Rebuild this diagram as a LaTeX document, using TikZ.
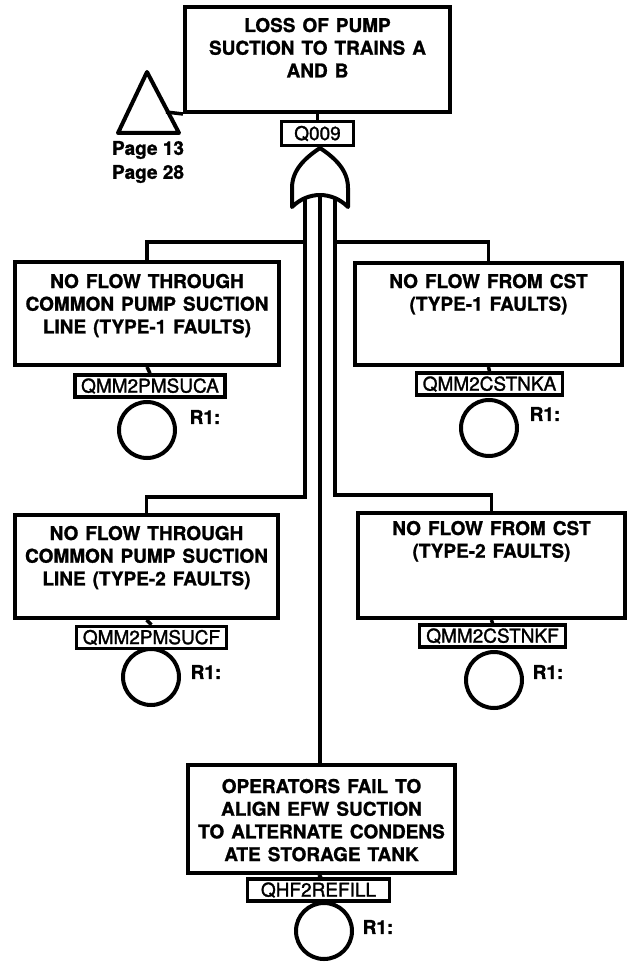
\documentclass[tikz,border=0pt]{standalone}
\usepackage{fontspec}
\setmainfont{TeX Gyre Heros}[BoldFeatures={FakeBold=1.2}]
\newfontfamily\labfont{TeX Gyre Heros}[FakeBold=1.5]
\newcommand{\evtext}[4]{\parbox[c][#2][t]{#1}{\centering\spaceskip=7pt plus 2pt minus 1pt\rule{0pt}{#3}#4\par}}
\begin{document}
\begin{tikzpicture}[x=1pt,y=-1pt,
  ev/.style={draw, line width=4pt, rectangle, inner sep=0pt,
    font=\bfseries\fontsize{19}{22.7}\selectfont},
  lab/.style={draw, line width=3.5pt, rectangle, inner sep=1pt,
    minimum width=146pt, minimum height=22pt,
    font=\labfont\fontsize{19}{20}\selectfont},
  basic/.style={draw, circle, line width=4pt, minimum size=56pt, inner sep=0pt},
  rone/.style={font=\bfseries\fontsize{19}{22}\selectfont, inner sep=0pt},
  conn/.style={line width=3.5pt},
  sym/.style={line width=4pt, line join=round},
]
\useasboundingbox (0,0) rectangle (628,965);

% top event
\node[ev] (top) at (317.5,59.5) {\evtext{265pt}{105pt}{25pt}{LOSS OF PUMP\\SUCTION TO TRAINS A\\AND B}};

% transfer triangle
\coordinate (triA) at (147,72);
\coordinate (triL) at (118,133);
\coordinate (triR) at (179,133);
\draw[sym] (triA) -- (triL) -- (triR) -- cycle;
\coordinate (triC) at (166,112);
\draw[conn] (triC) -- (top.south west);
\node[rone, align=center, font=\bfseries\fontsize{19}{24}\selectfont] (pages) at (148,162) {Page 13\\Page 28};

% gate label
\node[lab, minimum width=72pt, minimum height=24pt] (q009) at (317.5,133.5) {Q009};
\draw[conn] (top.south) -- (q009.north);

% OR gate
\draw[sym] (320,148) .. controls (305,158) and (292,170) .. (292,188) -- (292,207)
  .. controls (300,199) and (310,195) .. (320,195)
  .. controls (330,195) and (340,199) .. (348,207) -- (348,188)
  .. controls (348,170) and (335,158) .. (320,148) -- cycle;
\coordinate (gL) at (305,198);
\coordinate (gM) at (320,195);
\coordinate (gR) at (335,198);

% events
\node[ev] (ul) at (147,313.5) {\evtext{264pt}{103pt}{26pt}{NO FLOW THROUGH\\COMMON PUMP SUCTION\\LINE (TYPE-1 FAULTS)}};
\node[ev] (ur) at (488.5,314) {\evtext{267pt}{102pt}{25pt}{NO FLOW FROM CST\\(TYPE-1 FAULTS)}};
\node[ev] (ll) at (146.5,566.5) {\evtext{263pt}{103pt}{25pt}{NO FLOW THROUGH\\COMMON PUMP SUCTION\\LINE (TYPE-2 FAULTS)}};
\node[ev] (lr) at (491.5,565.5) {\evtext{267pt}{105pt}{22pt}{NO FLOW FROM CST\\(TYPE-2 FAULTS)}};
\node[ev] (bot) at (321.5,819) {\evtext{267pt}{108pt}{28pt}{OPERATORS FAIL TO\\ALIGN EFW SUCTION\\TO ALTERNATE CONDENS\\ATE STORAGE TANK}};

% labels
\node[lab, minimum width=150pt] (ulL) at (150,386) {QMM2PMSUCA};
\node[lab] (urL) at (489.5,384) {QMM2CSTNKA};
\node[lab, minimum width=150pt] (llL) at (151.5,637.5) {QMM2PMSUCF};
\node[lab] (lrL) at (492.5,636) {QMM2CSTNKF};
\node[lab, minimum width=142pt] (botL) at (318.5,890) {QHF2REFILL};

\draw[conn] (ul.south) -- (ulL.north);
\draw[conn] (ur.south) -- (urL.north);
\draw[conn] (ll.south) -- (llL.north);
\draw[conn] (lr.south) -- (lrL.north);
\draw[conn] (bot.south) -- (botL.north);

% basic events
\node[basic] (ulC) at (147,430) {};
\node[basic] (urC) at (489,428) {};
\node[basic] (llC) at (151,677) {};
\node[basic] (lrC) at (494,680) {};
\node[basic] (botC) at (324,931) {};

\node[rone] (ulR) at (205,417) {R1:};
\node[rone] (urR) at (545,414) {R1:};
\node[rone] (llR) at (206,672) {R1:};
\node[rone] (lrR) at (548,672) {R1:};
\node[rone] (botR) at (378,927) {R1:};

% connectors from gate
\coordinate (jUL) at (305,242);
\coordinate (jUR) at (335,242);
\coordinate (jLL) at (305,497);
\coordinate (jLR) at (335,495);
\draw[conn] (gL) -- (jLL) -| (ll.north);
\draw[conn] (gR) -- (jLR) -| (lr.north);
\draw[conn] (jUL) -| (ul.north);
\draw[conn] (jUR) -| (ur.north);
\draw[conn] (gM) -- (gM |- bot.north);
\end{tikzpicture}
\end{document}
